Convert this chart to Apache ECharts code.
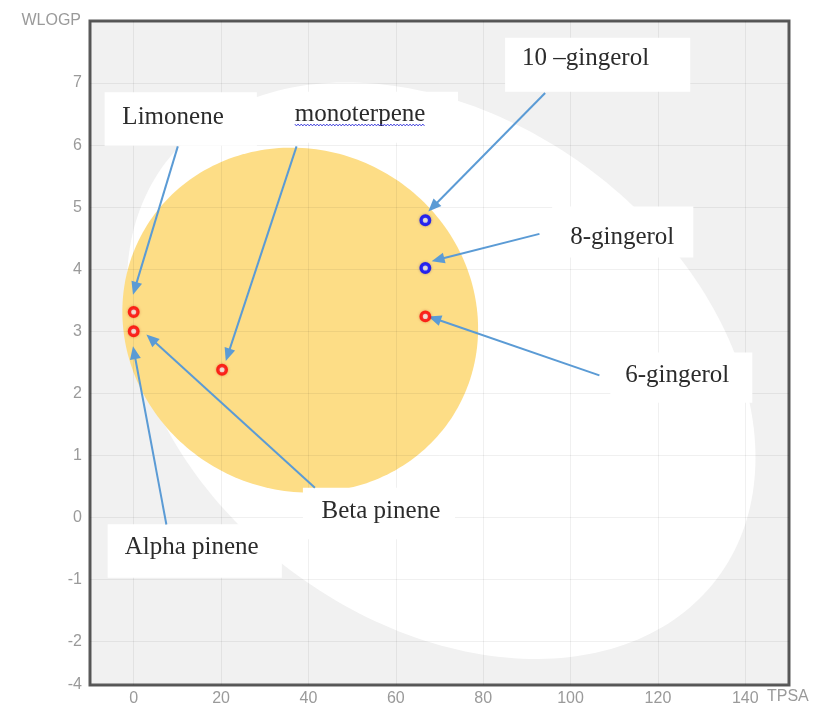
<!DOCTYPE html>
<html><head><meta charset="utf-8">
<script src="https://cdn.jsdelivr.net/npm/echarts@6/dist/echarts.min.js"></script>
<style>html,body{margin:0;padding:0;background:#fff}#c{width:814px;height:707px}</style>
</head><body><div id="c"></div>
<script>
// ---------------- data ----------------
const compoundNames = ['Limonene', 'Alpha pinene', 'monoterpene', '10 –gingerol', '8-gingerol', '6-gingerol'];
const tpsaValues  = [0, 0, 20.23, 66.76, 66.76, 66.76];
const wlogpValues = [3.31, 3.00, 2.38, 4.79, 4.02, 3.24];
const pgpSubstrate = [false, false, false, true, true, false];

const xTickLabels = ['0', '20', '40', '60', '80', '100', '120', '140'];
const yTickLabels = ['-4', '-2', '-1', '0', '1', '2', '3', '4', '5', '6', '7'];
const X_MIN = -10, X_MAX = 150, Y_MIN = -2.7, Y_MAX = 8;
const X_NAME = 'TPSA', Y_NAME = 'WLOGP';

// egg regions (center in data units, semi-axes in x-units / y-units, tilt on screen)
const whiteRegion = { center: [70.4, 2.365], semiAxes: [79.06, 4.03], tiltDeg: 37 };
const yolkRegion  = { center: [38.12, 3.18], semiAxes: [41.25, 2.74], tiltDeg: 29 };

// annotations
const annotationTexts = ['Limonene', 'monoterpene', '10 –gingerol', '8-gingerol', '6-gingerol', 'Beta pinene', 'Alpha pinene'];
const annotationBoxes = [
  [-6.65, 6.85, 28.19, 5.99], [33.46, 6.86, 74.24, 6.04], [85.01, 7.73, 127.4, 6.86],
  [95.78, 5.01, 128.1, 4.19], [109.1, 2.66, 141.6, 1.85], [38.73, 0.48, 73.56, -0.35],
  [-5.96, -0.11, 33.91, -0.97]
];
const annotationTextAt = [[-2.59, 6.45], [36.89, 6.49], [88.9, 7.39], [99.91, 4.51], [112.5, 2.29], [43.0, 0.10], [-2.06, -0.485]];
const arrowFrom = [[10.1, 5.98], [37.28, 5.98], [94.18, 6.84], [92.88, 4.57], [106.6, 2.29], [41.48, 0.477], [7.49, -0.114]];
const arrowTo   = [[-0.16, 3.59], [21.08, 2.52], [67.44, 4.93], [68.2, 4.13], [67.44, 3.24], [2.91, 2.95], [-0.16, 2.76]];
const spellUnderline = [false, true, false, false, false, false, false];

// ---------------- chart ----------------
const chart = echarts.init(document.getElementById('c'), null, { renderer: 'canvas' });

function ellipseSeries(region, color, z) {
  return {
    type: 'custom', coordinateSystem: 'cartesian2d', z: z, silent: true,
    data: [[region.center[0], region.center[1]]],
    renderItem: function (params, api) {
      const c = api.coord([api.value(0), api.value(1)]);
      const sx = api.size([1, 0])[0], sy = api.size([0, 1])[1];
      const A = region.semiAxes[0] * sx, B = region.semiAxes[1] * sy;
      const t = region.tiltDeg * Math.PI / 180;
      const pts = [];
      for (let i = 0; i < 240; i++) {
        const a = i / 240 * 2 * Math.PI;
        pts.push([
          c[0] + A * Math.cos(a) * Math.cos(t) - B * Math.sin(a) * Math.sin(t),
          c[1] + A * Math.cos(a) * Math.sin(t) + B * Math.sin(a) * Math.cos(t)
        ]);
      }
      return { type: 'polygon', shape: { points: pts }, style: { fill: color } };
    }
  };
}

const LABEL_FONT = '25px "Liberation Serif", "Times New Roman", serif';
const measureCtx = document.createElement('canvas').getContext('2d');
measureCtx.font = LABEL_FONT;

const AXIS_TEXT = { color: '#9a9a9a', fontSize: 16, fontFamily: 'Liberation Sans' };

const option = {
  animation: false,
  backgroundColor: '#ffffff',
  grid: { left: 90, right: 25, top: 21, bottom: 22, show: true, backgroundColor: '#f1f1f1', borderColor: '#5a5a5a', borderWidth: 3 },
  graphic: [{
    type: 'text', right: 814 - 81, top: 13, z: 10,
    style: { text: Y_NAME, fill: AXIS_TEXT.color, font: '16px "Liberation Sans", Arial, sans-serif' }
  }],
  xAxis: {
    type: 'value', min: X_MIN, max: X_MAX, minInterval: 20, maxInterval: 20, z: 3,
    axisLine: { show: false, onZero: false }, axisTick: { show: false },
    axisLabel: Object.assign({}, AXIS_TEXT, {
      margin: 6, showMinLabel: false, showMaxLabel: false,
      formatter: function (v) { return xTickLabels.indexOf(String(v)) >= 0 ? String(v) : ''; }
    }),
    splitLine: { show: true, lineStyle: { color: 'rgba(0,0,0,0.06)', width: 1 } },
    name: X_NAME, nameLocation: 'end', nameGap: -22,
    nameTextStyle: Object.assign({}, AXIS_TEXT, { align: 'left', verticalAlign: 'top', padding: [4, 0, 0, 0] })
  },
  yAxis: {
    type: 'value', min: Y_MIN, max: Y_MAX, minInterval: 1, maxInterval: 1, z: 3,
    axisLine: { show: false, onZero: false }, axisTick: { show: false },
    axisLabel: Object.assign({}, AXIS_TEXT, {
      margin: 8, showMinLabel: true, showMaxLabel: false,
      formatter: function (v) {
        if (Math.abs(v - Y_MIN) < 1e-6) return yTickLabels[0];
        const s = String(Math.round(v));
        return (Math.abs(v - Math.round(v)) < 1e-6 && yTickLabels.indexOf(s) > 0) ? s : '';
      }
    }),
    splitLine: { show: true, lineStyle: { color: 'rgba(0,0,0,0.06)', width: 1 } }
  },
  series: [
    ellipseSeries(whiteRegion, '#ffffff', 1),
    ellipseSeries(yolkRegion, '#fddd86', 1.5),
    {
      type: 'custom', coordinateSystem: 'cartesian2d', z: 6, silent: true, clip: false,
      data: annotationTexts.map(function (t, i) { return [arrowTo[i][0], arrowTo[i][1]]; }),
      renderItem: function (params, api) {
        const i = params.dataIndex;
        const b = annotationBoxes[i];
        const p1 = api.coord([b[0], b[1]]), p2 = api.coord([b[2], b[3]]);
        const children = [];
        children.push({ type: 'rect', shape: { x: p1[0], y: p1[1], width: p2[0] - p1[0], height: p2[1] - p1[1] }, style: { fill: '#ffffff' } });
        const tp = api.coord(annotationTextAt[i]);
        children.push({ type: 'text', x: tp[0], y: tp[1], style: { text: annotationTexts[i], fill: '#2b2b2b', font: LABEL_FONT, textAlign: 'left', textVerticalAlign: 'middle' } });
        if (spellUnderline[i]) {
          const w = measureCtx.measureText(annotationTexts[i]).width;
          const pts = [];
          const yb = tp[1] + 10;
          for (let k = 0, x = tp[0]; x <= tp[0] + w; k++, x += 1.6) pts.push([x, yb + (k % 2 ? 1.2 : -0.6)]);
          children.push({ type: 'polyline', shape: { points: pts }, style: { stroke: '#3b3bdc', lineWidth: 1, fill: null } });
        }
        const s = api.coord(arrowFrom[i]);
        const tip = api.coord([api.value(0), api.value(1)]);
        const dx = tip[0] - s[0], dy = tip[1] - s[1];
        const L = Math.hypot(dx, dy), ux = dx / L, uy = dy / L;
        const headLen = 13, headHalf = 5.5;
        const base = [tip[0] - ux * headLen, tip[1] - uy * headLen];
        children.push({ type: 'line', shape: { x1: s[0], y1: s[1], x2: base[0] + ux * 2, y2: base[1] + uy * 2 }, style: { stroke: '#5b9bd5', lineWidth: 2 } });
        children.push({ type: 'polygon', shape: { points: [tip, [base[0] - uy * headHalf, base[1] + ux * headHalf], [base[0] + uy * headHalf, base[1] - ux * headHalf]] }, style: { fill: '#5b9bd5' } });
        return { type: 'group', children: children };
      }
    },
    {
      type: 'scatter', z: 8, symbol: 'circle', symbolSize: 8.5,
      data: tpsaValues.map(function (x, i) {
        const col = pgpSubstrate[i] ? '#0000ff' : '#ff0000';
        return { name: compoundNames[i], value: [x, wlogpValues[i]],
          itemStyle: { color: '#ffffff', borderColor: col, borderWidth: 3.4, shadowBlur: 3, shadowColor: pgpSubstrate[i] ? 'rgba(0,0,120,0.35)' : 'rgba(160,0,0,0.35)' } };
      })
    }
  ]
};
chart.setOption(option);
</script>
</body></html>
